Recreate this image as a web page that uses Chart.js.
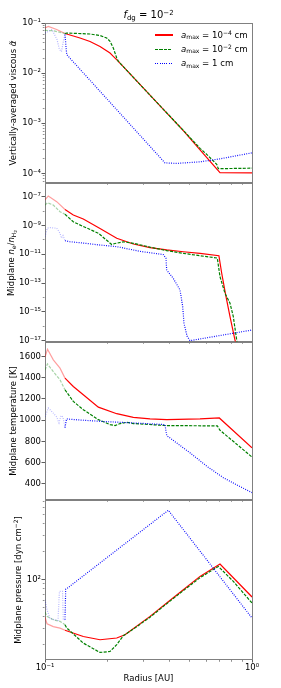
<!DOCTYPE html>
<html>
<head>
<meta charset="utf-8">
<script src="https://cdn.jsdelivr.net/npm/chart.js@4.4.1/dist/chart.umd.min.js"></script>
<style>
  html, body { margin:0; padding:0; background:#ffffff; }
  #fig { position:relative; width:281px; height:688px; overflow:hidden; font-family:"DejaVu Sans", sans-serif; color:#000; }
  #fig canvas { position:absolute; left:0; }
  .t { position:absolute; white-space:nowrap; line-height:1; font-size:8.6px; }
  .yl { position:absolute; white-space:nowrap; line-height:1; font-size:8.5px; transform:translate(-50%,-50%) rotate(-90deg); }
  sub, sup { font-size:70%; line-height:0; position:relative; vertical-align:baseline; }
  sup { top:-0.5em; }
  sub { top:0.28em; }
  .leg { position:absolute; height:1.2px; width:18px; left:155px; }
</style>
</head>
<body>
<div id="fig">
  <canvas id="c1" width="281" height="171" style="top:17px"></canvas>
  <canvas id="c2" width="281" height="170" style="top:177px"></canvas>
  <canvas id="c3" width="281" height="169" style="top:336px"></canvas>
  <canvas id="c4" width="281" height="194" style="top:494px"></canvas>

  <div class="t" style="left:148.5px; top:10px; font-size:10px; transform:translateX(-50%);"><i>f</i><sub>dg</sub> = 10<sup>−2</sup></div>

  <div class="leg" style="top:34.4px; background:#ff0000;"></div>
  <div class="leg" style="top:48.6px; background:repeating-linear-gradient(90deg,#008000 0 3.1px,transparent 3.1px 4.45px);"></div>
  <div class="leg" style="top:62.8px; background:repeating-linear-gradient(90deg,#0000ff 0 0.9px,transparent 0.9px 2.3px);"></div>
  <div class="t" style="left:181px; top:30.5px;"><i>a</i><sub>max</sub> = 10<sup>−4</sup> cm</div>
  <div class="t" style="left:181px; top:44.7px;"><i>a</i><sub>max</sub> = 10<sup>−2</sup> cm</div>
  <div class="t" style="left:181px; top:58.9px;"><i>a</i><sub>max</sub> = 1 cm</div>

  <div class="yl" style="left:13px; top:103px;">Vertically-averaged viscous <i>α̃</i></div>
  <div class="yl" style="left:10.5px; top:262.5px;">Midplane <i>n</i><sub>e</sub>/<i>n</i><sub>H<sub>2</sub></sub></div>
  <div class="yl" style="left:12.5px; top:421px;">Midplane temperature [K]</div>
  <div class="yl" style="left:18px; top:579.5px;">Midplane pressure [dyn cm<sup>−2</sup>]</div>
</div>
<script>
// ---------------- data (radius in AU) ----------------
// Panel 1: vertically averaged viscous alpha
const alphaRedR   = [0.1, 0.10374, 0.1139, 0.1249, 0.1476, 0.165, 0.1844, 0.2061, 0.2138, 0.2261, 0.3216, 0.4657, 0.5609, 0.7005, 1.0];
const alphaRedV   = [0.0794, 0.0855, 0.0741, 0.0617, 0.0501, 0.0427, 0.0339, 0.0251, 0.0216, 0.0172, 0.00363, 7.1e-4, 2.95e-4, 1.03e-4, 1.02e-4];
const alphaGreenR = [0.1, 0.1097, 0.1249, 0.1273, 0.165, 0.1844, 0.1987, 0.2061, 0.2138, 0.2221, 0.2261, 0.3216, 0.4657, 0.5609, 0.6041, 0.6754, 0.6874, 1.0];
const alphaGreenV = [0.0713, 0.0702, 0.0617, 0.0631, 0.0603, 0.0562, 0.0501, 0.0431, 0.0316, 0.0200, 0.0172, 0.00363, 7.2e-4, 3.16e-4, 2.40e-4, 1.51e-4, 1.24e-4, 1.27e-4];
const alphaBlueR  = [0.1, 0.1081, 0.1143, 0.1175, 0.1201, 0.1222, 0.1249, 0.1273, 0.3799, 0.4327, 0.5609, 0.7005, 1.0];
const alphaBlueV  = [0.0631, 0.0741, 0.0468, 0.0295, 0.0269, 0.0398, 0.0589, 0.0234, 1.62e-4, 1.58e-4, 1.70e-4, 1.95e-4, 2.57e-4];

// Panel 2: midplane n_e / n_H2
const neRedR   = [0.1, 0.10374, 0.1139, 0.1249, 0.1370, 0.1531, 0.1844, 0.2221, 0.2671, 0.3216, 0.3872, 0.4657, 0.5609, 0.6920, 0.7139, 0.7489, 0.7830, 0.8277, 0.8371];
const neRedV   = [5.9e-8, 1.12e-7, 4.5e-8, 1.3e-8, 5.4e-9, 2.8e-9, 6.2e-10, 1.3e-10, 5.2e-11, 2.9e-11, 2.0e-11, 1.5e-11, 1.17e-11, 7.9e-12, 4.8e-13, 1.15e-14, 4.7e-16, 1.1e-17, 6.3e-18];
const neGreenR = [0.1, 0.10282, 0.10967, 0.11816, 0.1249, 0.1370, 0.1531, 0.1810, 0.2100, 0.2179, 0.2390, 0.2671, 0.3216, 0.3872, 0.4657, 0.5609, 0.6799, 0.7005, 0.7406, 0.7830, 0.8122, 0.8436, 0.86];
const neGreenV = [2.6e-8, 3.8e-8, 2.6e-8, 9.1e-9, 6.0e-9, 1.8e-9, 8.5e-10, 2.9e-10, 4.8e-11, 5.6e-11, 7.4e-11, 5.8e-11, 3.1e-11, 1.8e-11, 1.17e-11, 7.9e-12, 5.5e-12, 2.75e-13, 1.95e-14, 4.0e-15, 4.7e-16, 1.1e-17, 1.7e-18];
const neBlueR  = [0.1, 0.10259, 0.10572, 0.1139, 0.11816, 0.12015, 0.12217, 0.1249, 0.13206, 0.15311, 0.18095, 0.22206, 0.28771, 0.37281, 0.38418, 0.38718, 0.41667, 0.44893, 0.46263, 0.46937, 0.4853, 0.50171, 0.65035, 1.0];
const neBlueV  = [1.66e-10, 6.5e-10, 7.1e-10, 6.5e-10, 2.9e-10, 1.3e-10, 2.0e-10, 8.7e-11, 7.4e-11, 6.0e-11, 4.5e-11, 3.4e-11, 1.6e-11, 9.5e-12, 5.2e-12, 8.1e-13, 2.1e-13, 3.3e-14, 2.3e-15, 1.6e-16, 2.1e-17, 1.0e-17, 1.9e-17, 5.5e-17];

// Panel 3: midplane temperature [K]
const tRedR   = [0.1, 0.10282, 0.10967, 0.11816, 0.1249, 0.1370, 0.1531, 0.1810, 0.2221, 0.2671, 0.3216, 0.3872, 0.5609, 0.6951, 1.0];
const tRedV   = [1595, 1670, 1569, 1491, 1397, 1318, 1240, 1123, 1061, 1027, 1012, 1005, 1012, 1021, 739];
const tGreenR = [0.1, 0.10282, 0.10967, 0.11816, 0.1249, 0.1370, 0.1531, 0.1810, 0.2061, 0.2179, 0.2304, 0.2482, 0.2671, 0.3872, 0.6799, 0.7005, 1.0];
const tGreenV = [1474, 1531, 1459, 1381, 1287, 1177, 1099, 1005, 958, 949, 968, 980, 968, 949, 946, 905, 652];
const tBlueR  = [0.1, 0.10374, 0.10774, 0.1139, 0.11684, 0.11948, 0.12217, 0.1249, 0.12702, 0.1370, 0.1844, 0.2671, 0.3799, 0.3872, 0.4657, 0.5017, 0.6041, 0.7267, 0.8750, 1.0];
const tBlueV  = [1032, 1115, 1083, 1030, 974, 1043, 1030, 930, 1012, 1006, 989, 974, 958, 855, 739, 692, 566, 457, 373, 316];

// Panel 4: midplane pressure [dyn cm^-2]
const pRedR   = [0.1, 0.10225, 0.10967, 0.11816, 0.1249, 0.1531, 0.1844, 0.2221, 0.2435, 0.3216, 0.3872, 0.4657, 0.5609, 0.7005, 1.0];
const pRedV   = [39.5, 33.6, 31.3, 30.1, 28.6, 24.5, 22.6, 23.6, 25.6, 40.3, 56.1, 78.0, 108.5, 147.6, 65.2];
const pGreenR = [0.1, 0.10225, 0.10967, 0.11816, 0.1249, 0.1273, 0.1531, 0.1844, 0.2061, 0.2221, 0.2390, 0.2671, 0.3216, 0.3872, 0.4657, 0.5609, 0.6874, 0.8122, 1.0];
const pGreenV = [44.8, 40.3, 37.1, 35.6, 32.8, 30.3, 20.8, 16.5, 16.9, 20.0, 25.0, 29.4, 39.5, 55.2, 76.2, 105.1, 139.0, 95.9, 56.1];
const pBlueR  = [0.1, 0.10225, 0.10572, 0.11556, 0.11737, 0.12149, 0.12258, 0.12491, 0.12589, 0.1273, 0.39413, 1.0];
const pBlueV  = [61.0, 47.6, 38.1, 36.3, 74.8, 74.8, 37.2, 37.2, 79.1, 80.0, 558, 38.7];

// tick values
const xMajorTicks = [0.1, 1];
const xMinorTicks = [0.2, 0.3, 0.4, 0.5, 0.6, 0.7, 0.8, 0.9];
const p1MajorExp = [-1, -2, -3, -4];
const p2MajorExp = [-7, -9, -11, -13, -15, -17];
const p2MinorExp = [-8, -10, -12, -14, -16];
const p3Ticks = [400, 600, 800, 1000, 1200, 1400, 1600];
const p4MajorExp = [2];

// ---------------- helpers ----------------
const PALE_LIMIT = 0.1247;
const RED = '#ff0000', GREEN = '#008000', BLUE = '#0000ff';
const RED_P = 'rgba(255,0,0,0.38)', GREEN_P = 'rgba(0,128,0,0.35)', BLUE_P = 'rgba(0,0,255,0.3)';
const FONT = {family:'DejaVu Sans', size:8.5};
const AXC = '#808080';
const SUPS = {'-':'⁻','0':'⁰','1':'¹','2':'²','3':'³','4':'⁴','5':'⁵','6':'⁶','7':'⁷','8':'⁸','9':'⁹'};
const pow10 = e => '10' + String(e).split('').map(c => SUPS[c]).join('');

function logMinor(min, max, decades) {
  const out = [];
  decades.forEach(e => { for (let m = 2; m <= 9; m++) { const v = m * Math.pow(10, e); if (v > min && v < max) out.push(v); } });
  return out;
}
function tickList(majors, labels, minors) {
  const t = majors.map((v, i) => ({value: v, major: true, lab: labels ? labels[i] : ''}));
  minors.forEach(v => t.push({value: v, major: false, lab: ''}));
  return t.sort((a, b) => a.value - b.value);
}
function ds(rs, vs, color, pale, dash, order) {
  return {
    data: rs.map((r, i) => ({x: r, y: vs[i]})),
    borderColor: color, borderWidth: 1.2, borderDash: dash, pointRadius: 0, tension: 0, fill: false, order: order,
    segment: { borderColor: c => (c.p0.parsed.x < PALE_LIMIT ? pale : color) }
  };
}
function trio(rR, rV, gR, gV, bR, bV) {
  return [ ds(rR, rV, RED, RED_P, [], 2), ds(gR, gV, GREEN, GREEN_P, [3.1, 1.35], 1), ds(bR, bV, BLUE, BLUE_P, [0.9, 1.4], 0) ];
}
const tickW = c => (c.tick && c.tick.major ? 0.8 : 0.55);

function makeChart(id, o) {
  const xT = tickList(xMajorTicks, o.xLabels ? [pow10(-1), pow10(0)] : null, xMinorTicks);
  new Chart(document.getElementById(id), {
    type: 'line',
    data: { datasets: o.datasets },
    options: {
      responsive: false, animation: false, devicePixelRatio: 1, events: [],
      layout: { padding: { top: 6, right: 29, bottom: 0, left: 0 } },
      plugins: { legend: { display: false }, tooltip: { enabled: false }, title: { display: false } },
      scales: {
        x: {
          type: 'logarithmic', position: 'bottom', min: 0.1, max: 1, bounds: 'data',
          afterBuildTicks: s => { s.ticks = xT.map(t => ({...t})); },
          afterFit: s => { s.height = o.xh; },
          ticks: { autoSkip: false, maxRotation: 0, padding: 0, font: FONT, color: '#000', callback: (v, i, t) => t[i].lab || '' },
          grid: { drawOnChartArea: false, drawTicks: true, tickLength: 3.5, tickColor: '#333', tickWidth: tickW,
                  tickBorderDash: c => (c.tick && c.tick.major ? [] : [1.8, 20]) },
          border: { display: true, color: AXC, width: 1 },
          title: o.xTitle ? { display: true, text: o.xTitle, font: FONT, color: '#000', padding: { top: 0, bottom: 4.6 } } : { display: false }
        },
        y: {
          type: o.yType, position: 'left', min: o.yMin, max: o.yMax, bounds: 'data',
          afterBuildTicks: s => { s.ticks = o.yTicks.map(t => ({...t})); },
          afterFit: s => { s.width = 45; },
          ticks: { autoSkip: false, padding: 0.5, font: FONT, color: '#000', callback: (v, i, t) => t[i].lab || '' },
          grid: { drawOnChartArea: false, drawTicks: true, tickLength: 3.5, tickColor: '#333', tickWidth: tickW,
                  tickBorderDash: c => (c.tick && c.tick.major ? [] : [0, 1.3, 1.7, 20]) },
          border: { display: true, color: AXC, width: 1 }
        },
        x2: { type: 'linear', position: 'top', min: 0, max: 1, afterFit: s => { s.height = 0; },
              ticks: { display: false }, grid: { drawOnChartArea: false, drawTicks: false }, border: { display: true, color: AXC, width: 1 } },
        y2: { type: 'linear', position: 'right', min: 0, max: 1, afterFit: s => { s.width = 0; },
              ticks: { display: false }, grid: { drawOnChartArea: false, drawTicks: false }, border: { display: true, color: AXC, width: 1 } }
      }
    }
  });
}

// Panel 1
const p1Min = Math.pow(10, -4.18), p1Max = Math.pow(10, -1);
makeChart('c1', {
  xh: 5, yType: 'logarithmic', yMin: p1Min, yMax: p1Max,
  yTicks: tickList(p1MajorExp.map(e => Math.pow(10, e)), p1MajorExp.map(pow10), logMinor(p1Min, p1Max, [-5, -4, -3, -2])),
  datasets: trio(alphaRedR, alphaRedV, alphaGreenR, alphaGreenV, alphaBlueR, alphaBlueV)
});
// Panel 2
const p2Min = Math.pow(10, -17.05), p2Max = Math.pow(10, -6.05);
makeChart('c2', {
  xh: 5, yType: 'logarithmic', yMin: p2Min, yMax: p2Max,
  yTicks: tickList(p2MajorExp.map(e => Math.pow(10, e)), p2MajorExp.map(pow10), p2MinorExp.map(e => Math.pow(10, e))),
  datasets: trio(neRedR, neRedV, neGreenR, neGreenV, neBlueR, neBlueV)
});
// Panel 3
makeChart('c3', {
  xh: 5, yType: 'linear', yMin: 252, yMax: 1738,
  yTicks: tickList(p3Ticks, p3Ticks.map(String), []),
  datasets: trio(tRedR, tRedV, tGreenR, tGreenV, tBlueR, tBlueV)
});
// Panel 4
const p4Min = Math.pow(10, 1.147), p4Max = Math.pow(10, 2.857);
makeChart('c4', {
  xh: 29, xLabels: true, xTitle: 'Radius [AU]', yType: 'logarithmic', yMin: p4Min, yMax: p4Max,
  yTicks: tickList(p4MajorExp.map(e => Math.pow(10, e)), p4MajorExp.map(pow10), logMinor(p4Min, p4Max, [1, 2])),
  datasets: trio(pRedR, pRedV, pGreenR, pGreenV, pBlueR, pBlueV)
});
</script>
</body>
</html>
